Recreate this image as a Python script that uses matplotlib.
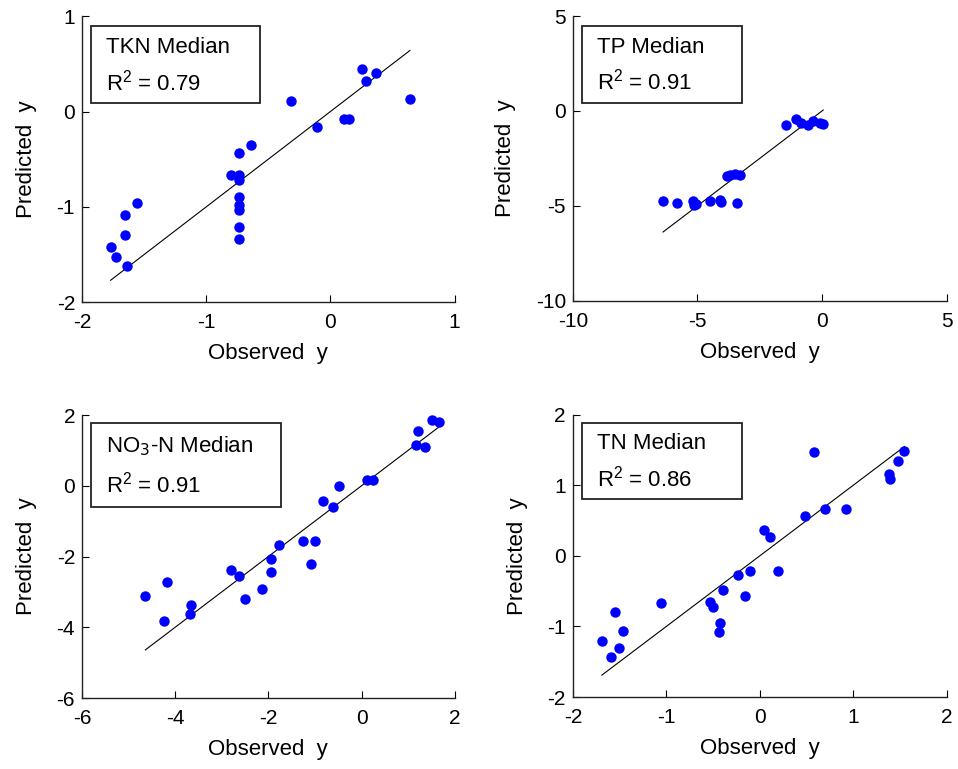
import matplotlib.pyplot as plt
from matplotlib.patches import Rectangle

plt.rcParams['font.family'] = ['Liberation Sans', 'DejaVu Sans']
plt.rcParams['axes.unicode_minus'] = False

# observed / predicted medians for each constituent
tkn_obs = [0.25, 0.29, 0.37, 0.64, -0.32, -0.11, 0.11, 0.15, -0.64, -0.74, -0.80, -0.74,
           -0.74, -0.74, -0.74, -0.74, -0.74, -0.74, -1.56, -1.65, -1.65, -1.77, -1.73, -1.64]
tkn_pred = [0.45, 0.32, 0.40, 0.13, 0.11, -0.16, -0.08, -0.08, -0.35, -0.43, -0.67, -0.67,
            -0.72, -0.90, -0.98, -1.03, -1.21, -1.34, -0.96, -1.09, -1.30, -1.42, -1.53, -1.62]

tp_obs = [-1.43, -1.03, -0.83, -0.56, -0.36, -0.09, 0.05, -3.83, -3.70, -3.50, -3.30,
          -6.38, -5.84, -5.17, -5.15, -5.04, -4.50, -4.10, -4.05, -3.43]
tp_pred = [-0.76, -0.40, -0.64, -0.76, -0.53, -0.64, -0.67, -3.45, -3.35, -3.31, -3.40,
           -4.72, -4.86, -4.72, -4.95, -4.89, -4.72, -4.69, -4.80, -4.86]

no3_obs = [1.52, 1.66, 1.21, 1.18, 1.36, 0.11, 0.25, -0.48, -0.82, -0.61, -1.25, -1.00,
           -1.09, -1.77, -1.95, -1.95, -2.13, -2.81, -2.64, -2.50, -4.18, -4.64, -4.25,
           -3.66, -3.69]
no3_pred = [1.86, 1.79, 1.56, 1.15, 1.11, 0.15, 0.15, -0.02, -0.42, -0.59, -1.55, -1.55,
            -2.21, -1.67, -2.07, -2.45, -2.91, -2.39, -2.56, -3.20, -2.73, -3.13, -3.81,
            -3.38, -3.62]

tn_obs = [1.55, 1.48, 1.38, 1.40, 0.58, 0.92, 0.70, 0.48, 0.05, 0.11, 0.20, -0.10, -0.23,
          -0.16, -0.39, -0.53, -0.50, -0.42, -0.44, -1.06, -1.55, -1.46, -1.69, -1.51, -1.59]
tn_pred = [1.49, 1.35, 1.16, 1.09, 1.47, 0.67, 0.67, 0.56, 0.37, 0.27, -0.21, -0.21, -0.27,
           -0.57, -0.48, -0.66, -0.72, -0.95, -1.08, -0.67, -0.80, -1.06, -1.20, -1.31, -1.43]

names = ['TKN Median', 'TP Median', 'NO$_3$-N Median', 'TN Median']
r2 = ['0.79', '0.91', '0.91', '0.86']
limits = [(-2, 1), (-10, 5), (-6, 2), (-2, 2)]
steps = [1, 5, 2, 1]

data = [(tkn_obs, tkn_pred), (tp_obs, tp_pred), (no3_obs, no3_pred), (tn_obs, tn_pred)]

fig = plt.figure(figsize=(9.58, 7.69), dpi=100)
rects = [[0.0856, 0.607, 0.389, 0.372],
         [0.598, 0.609, 0.390, 0.370],
         [0.0856, 0.0923, 0.389, 0.368],
         [0.598, 0.0936, 0.390, 0.367]]
boxes = [(0.024, 0.696, 0.453, 0.269),
         (0.024, 0.696, 0.428, 0.269),
         (0.024, 0.675, 0.511, 0.297),
         (0.024, 0.703, 0.428, 0.269)]

for i in range(4):
    ax = fig.add_axes(rects[i])
    obs, pred = data[i]
    lo, hi = limits[i]
    # 1:1 reference line over the observed range
    ax.plot([min(obs), max(obs)], [min(obs), max(obs)], color='k', lw=0.8)
    ax.plot(obs, pred, 'o', color='#0000ff', markersize=7.5, markeredgewidth=0)
    ax.set_xlim(lo, hi)
    ax.set_ylim(lo, hi)
    ticks = list(range(lo, hi + 1, steps[i]))
    ax.set_xticks(ticks)
    ax.set_yticks(ticks)
    ax.spines['top'].set_visible(False)
    ax.spines['right'].set_visible(False)
    for s in ['left', 'bottom']:
        ax.spines[s].set_linewidth(1.0)
        ax.spines[s].set_color('#222222')
    ax.tick_params(direction='in', length=5, width=0.8, labelsize=15)
    ax.tick_params(axis='x', pad=8)
    ax.tick_params(axis='y', pad=5)
    ax.set_xlabel('Observed  y', fontsize=16, labelpad=8)
    ax.set_ylabel('Predicted  y', fontsize=16, labelpad=14)
    bx, by, bw, bh = boxes[i]
    ax.add_patch(Rectangle((bx, by), bw, bh, transform=ax.transAxes, fill=False,
                           edgecolor='#222222', lw=1.3, zorder=5))
    ax.text(bx + 0.04, by + bh * 0.72, names[i], transform=ax.transAxes, fontsize=16,
            va='center', ha='left')
    ax.text(bx + 0.04, by + bh * 0.27, '$\\mathregular{R^2}$ = ' + r2[i],
            transform=ax.transAxes, fontsize=16, va='center', ha='left')

fig.savefig('out.png', dpi=100)
